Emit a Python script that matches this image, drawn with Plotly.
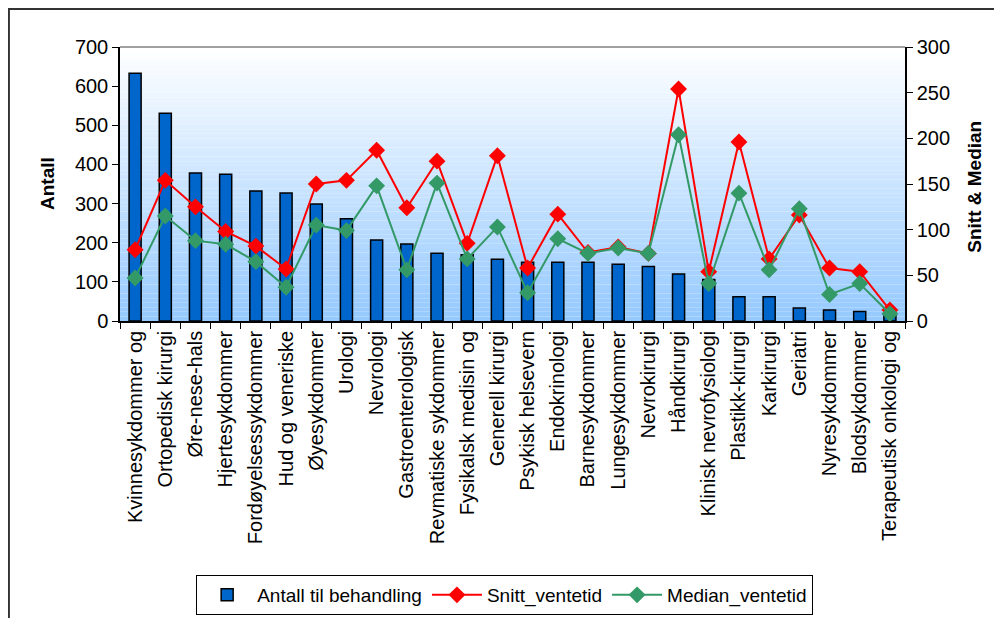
import plotly.graph_objects as go

# data
categories = [
    "Kvinnesykdommer og", "Ortopedisk kirurgi", "Øre-nese-hals", "Hjertesykdommer",
    "Fordøyelsessykdommer", "Hud og veneriske", "Øyesykdommer", "Urologi", "Nevrologi",
    "Gastroenterologisk", "Revmatiske sykdommer", "Fysikalsk medisin og", "Generell kirurgi",
    "Psykisk helsevern", "Endokrinologi", "Barnesykdommer", "Lungesykdommer", "Nevrokirurgi",
    "Håndkirurgi", "Klinisk nevrofysiologi", "Plastikk-kirurgi", "Karkirurgi", "Geriatri",
    "Nyresykdommer", "Blodsykdommer", "Terapeutisk onkologi og",
]
antall = [633, 531, 378, 375, 332, 327, 299, 261, 207, 197, 173, 169, 158,
          150, 150, 150, 145, 139, 120, 106, 62, 62, 33, 28, 24, 15]
snitt = [78, 154, 125, 98, 82, 57, 150, 154, 187, 124, 175, 85, 181,
         58, 117, 75, 81, 74, 254, 54, 196, 68, 116, 58, 54, 12]
median = [47, 115, 88, 84, 65, 37, 105, 99, 148, 56, 151, 68, 103,
          31, 90, 74, 80, 74, 204, 41, 140, 56, 123, 29, 41, 8]

FONT = "Liberation Sans, Arial, sans-serif"

fig = go.Figure()

fig.add_trace(go.Bar(
    x=categories, y=antall, name="Antall til behandling",
    marker=dict(color="#0066CC", line=dict(color="black", width=1.5)),
    width=0.4, yaxis="y",
))
fig.add_trace(go.Scatter(
    x=categories, y=snitt, name="Snitt_ventetid", mode="lines+markers",
    line=dict(color="#FF0000", width=2),
    marker=dict(symbol="diamond", size=13, color="#FF0000"),
    yaxis="y2",
))
fig.add_trace(go.Scatter(
    x=categories, y=median, name="Median_ventetid", mode="lines+markers",
    line=dict(color="#339966", width=2),
    marker=dict(symbol="diamond", size=13, color="#339966"),
    yaxis="y2",
))

# background gradient (white at top -> light blue at bottom)
shapes = []
n_strips = 60
for i in range(n_strips):
    t = i / (n_strips - 1)
    r = int(255 - (255 - 150) * t)
    g = int(255 - (255 - 202) * t)
    b = 255
    shapes.append(dict(
        type="rect", xref="x domain", yref="y domain",
        x0=0, x1=1, y0=1 - (i + 1) / n_strips, y1=1 - i / n_strips,
        fillcolor=f"rgb({r},{g},{b})", line=dict(width=0), layer="below",
    ))
# grey top border of the plot area
shapes.append(dict(type="line", xref="x domain", yref="y domain",
                   x0=0, x1=1, y0=1, y1=1, line=dict(color="#808080", width=1.5)))
# outer frame
shapes.append(dict(type="rect", xref="paper", yref="paper",
                   x0=-0.1415, x1=1.3, y0=-1.5, y1=1.1387,
                   line=dict(color="#333333", width=2), fillcolor="rgba(0,0,0,0)"))

fig.update_layout(
    width=994, height=610,
    margin=dict(l=112, r=97, t=39, b=297, autoexpand=False),
    paper_bgcolor="white", plot_bgcolor="white",
    font=dict(family=FONT, color="black", size=19),
    showlegend=True,
    legend=dict(
        orientation="h", x=0.49, xanchor="center", y=-0.927, yanchor="top",
        bordercolor="black", borderwidth=1, bgcolor="white",
        font=dict(size=19, family=FONT), itemwidth=50,
    ),
    xaxis=dict(
        type="category", range=[-0.5, len(categories) - 0.5],
        tickangle=-90, tickson="boundaries", ticks="outside",
        ticklen=6, tickcolor="black", showline=True, linecolor="black", linewidth=1.5,
        tickfont=dict(size=20), showgrid=False,
    ),
    yaxis=dict(
        range=[0, 700], dtick=100, ticks="outside", ticklen=6, tickcolor="black",
        showline=True, linecolor="black", linewidth=1.5, showgrid=False, zeroline=False,
        tickfont=dict(size=20),
    ),
    yaxis2=dict(
        range=[0, 300], dtick=50, overlaying="y", side="right", ticks="outside",
        ticklen=6, tickcolor="black", showline=True, linecolor="black", linewidth=1.5,
        showgrid=False, zeroline=False, tickfont=dict(size=20),
    ),
    bargap=0.6,
    shapes=shapes,
    annotations=[
        dict(text="<b>Antall</b>", xref="paper", yref="paper", x=0, y=0.5,
             xanchor="center", yanchor="middle",
             xshift=-73, textangle=-90, showarrow=False, font=dict(size=19)),
        dict(text="<b>Snitt &amp; Median</b>", xref="paper", yref="paper", x=1, y=0.49,
             xanchor="center", yanchor="middle",
             xshift=70, textangle=-90, showarrow=False, font=dict(size=19)),
    ],
)

fig.write_html("out.html")
